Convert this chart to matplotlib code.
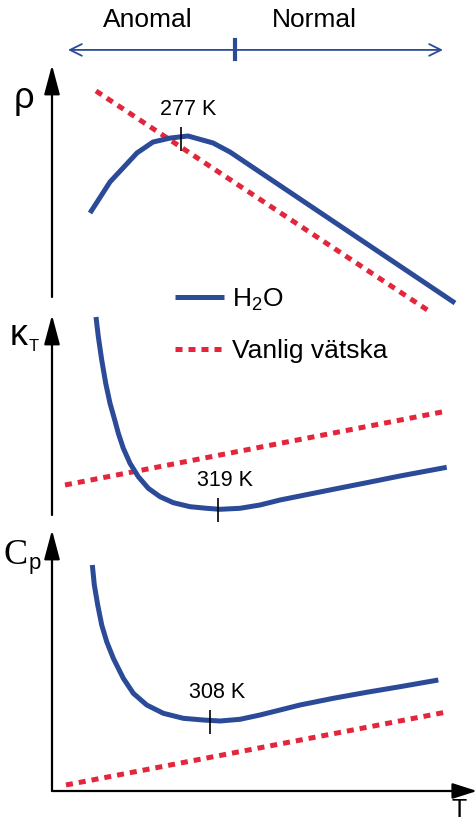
import matplotlib.pyplot as plt
from matplotlib.lines import Line2D

# T is in arbitrary units (0 at the y axis), each property in arbitrary units 0-100
rho_T = [9.5, 14.5, 21.25, 25.25, 29.5, 34, 40.25, 44.5, 100.75]
rho_h2o = [36.2, 49.6, 62.1, 66.8, 68.5, 69.4, 66.4, 62.5, -2.6]
rho_T_liq = [11, 95]
rho_liq = [88.8, -6.9]

kap_T = [11, 11.58, 12.43, 13.43, 14.5, 15.75, 16.58, 17.83, 19.5, 21.58, 24.08, 27,
         30.33, 34.5, 38.68, 42, 47, 52, 57, 62, 70.33, 78.68, 87, 98.68]
kap_h2o = [99, 89.15, 77.5, 65.85, 55.85, 47, 40.85, 33.35, 25.85, 19.15, 13.35, 9.15,
           6.15, 4.15, 3.35, 2.85, 3.35, 5, 7.5, 9.5, 12.85, 16.15, 19.5, 23.85]
kap_T_liq = [3.25, 98.75]
kap_liq = [15, 52]

cp_T = [10.08, 10.58, 11.43, 12.43, 13.68, 15.33, 17.83, 20.33, 23.68, 27.83, 32.83,
        37.83, 42, 47, 52, 57, 62, 70.33, 78.68, 87, 96.58]
cp_h2o = [86.59, 78.93, 71.26, 63.6, 57.2, 50.84, 43.18, 37.43, 32.95, 29.77, 27.85,
          27.2, 26.82, 27.47, 29.12, 31.03, 32.95, 35.52, 37.82, 39.96, 42.53]
cp_T_liq = [3.5, 98.75]
cp_liq = [2.3, 30.3]

ext_T = [32.25, 41.5, 39.5]
ext_val = [68.3, 2.75, 26.6]
ext_lab = ['277 K', '319 K', '308 K']

BLUE = '#2b4b98'
RED = '#e3263b'
W, H = 477, 825

plt.rcParams['font.family'] = ['Liberation Sans', 'DejaVu Sans']

fig = plt.figure(figsize=(W / 100, H / 100), dpi=100)


def panel(top, bottom):
    ax = fig.add_axes([52 / W, 1 - bottom / H, 408 / W, (bottom - top) / H])
    ax.set_xlim(0, 102)
    ax.set_ylim(0, 100)
    ax.axis('off')
    ax.annotate('', xy=(0, 1), xytext=(0, 0), xycoords='axes fraction',
                arrowprops=dict(arrowstyle='-|>,head_length=0.9,head_width=0.24',
                                color='black', lw=1.6, shrinkA=0, shrinkB=0,
                                mutation_scale=20))
    return ax


ax1 = panel(65, 297)
ax2 = panel(315, 515)
ax3 = panel(530, 791)
ax3.annotate('', xy=(425 / 408, 0), xytext=(0, 0), xycoords='axes fraction',
             arrowprops=dict(arrowstyle='-|>,head_length=0.75,head_width=0.24',
                             color='black', lw=1.6, shrinkA=0, shrinkB=0,
                             mutation_scale=20))

dots = (0, (1.4, 1.2))
panels = [(ax1, rho_T, rho_h2o, rho_T_liq, rho_liq),
          (ax2, kap_T, kap_h2o, kap_T_liq, kap_liq),
          (ax3, cp_T, cp_h2o, cp_T_liq, cp_liq)]
for i, (ax, t, y, tl, yl) in enumerate(panels):
    ax.plot(tl, yl, color=RED, lw=3.6, ls=dots, dash_capstyle='butt', clip_on=False)
    ax.plot(t, y, color=BLUE, lw=3.6, solid_capstyle='butt', solid_joinstyle='round',
            clip_on=False)
    ax.plot(ext_T[i], ext_val[i], marker='|', ms=17, mew=1.2, color='black', clip_on=False)
    ax.annotate(ext_lab[i], (ext_T[i], ext_val[i]), xytext=(5, 21),
                textcoords='offset points', ha='center', va='center', fontsize=15.5)

# anomal / normal range arrow above the density panel
ax1.annotate('', xy=(97.75, 106.5), xytext=(4, 106.5), xycoords='data',
             arrowprops=dict(arrowstyle='<->,head_length=0.85,head_width=0.42',
                             color=BLUE, lw=1.3, shrinkA=0, shrinkB=0,
                             mutation_scale=10), annotation_clip=False)
ax1.plot([45.75, 45.75], [102.4, 110.6], color=BLUE, lw=3, clip_on=False)
ax1.text(24, 119.4, 'Anomal', ha='center', va='center', fontsize=19)
ax1.text(65.5, 119.4, 'Normal', ha='center', va='center', fontsize=19)

handles = [Line2D([], [], color=BLUE, lw=3.6, solid_capstyle='butt'),
           Line2D([], [], color=RED, lw=3.6, ls=dots, dash_capstyle='butt')]
fig.legend(handles, [r'$\mathregular{H_2O}$', 'Vanlig vätska'], loc='center left',
           bbox_to_anchor=(175 / W, 1 - 325 / H), frameon=False, fontsize=19,
           handlelength=1.85, handletextpad=0.3, labelspacing=1.0,
           borderpad=0, borderaxespad=0)


def ftext(x, y, s, **kw):
    fig.text(x / W, 1 - y / H, s, ha='center', va='center', **kw)


ftext(23.5, 98, 'ρ', fontsize=26)
ftext(19, 336, 'κ', fontsize=26)
ftext(34, 346, 'T', fontsize=12)
ftext(16, 555, 'C', fontsize=26, family='Liberation Serif')
ftext(35, 563, 'p', fontsize=16)
fig.text(459 / W, 1 - 817 / H, 'T', ha='center', va='baseline', fontsize=18)

fig.savefig('out.png', dpi=100)
